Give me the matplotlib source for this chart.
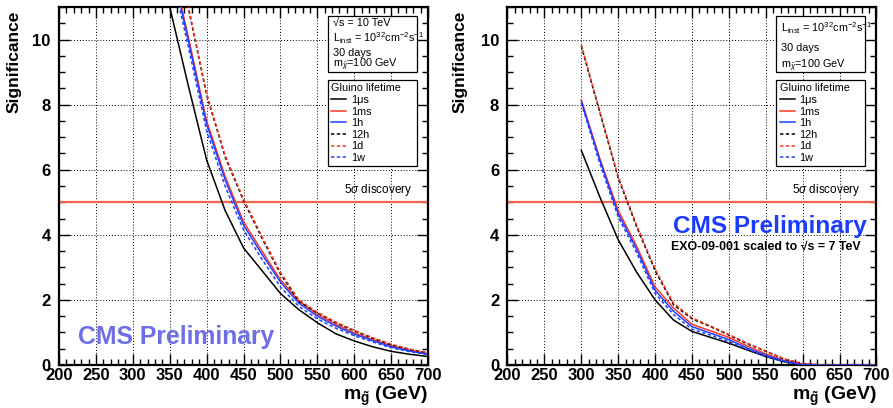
import matplotlib
matplotlib.use('Agg')
import matplotlib.pyplot as plt
from matplotlib.patches import Rectangle
from matplotlib.ticker import MultipleLocator

plt.rcParams['font.family'] = ['Liberation Sans', 'DejaVu Sans']
plt.rcParams['mathtext.fontset'] = 'custom'
plt.rcParams['mathtext.rm'] = 'Liberation Sans'
plt.rcParams['mathtext.it'] = 'Liberation Sans:italic'
plt.rcParams['mathtext.bf'] = 'Liberation Sans:bold'

# ---------------- data: left panel (10 TeV) ----------------
mass_L_black = [340, 350, 375, 400, 425, 450, 475, 500, 525, 550, 575, 600, 625, 650, 675, 700]
sig_L_1us = [12.2, 11.0, 8.6, 6.3, 4.75, 3.6, 2.9, 2.2, 1.7, 1.3, 0.96, 0.74, 0.56, 0.42, 0.33, 0.26]

mass_L_mid = [355, 375, 400, 425, 450, 475, 500, 525, 550, 575, 600, 625, 650, 675, 700]
sig_L_1ms = [12.1, 10.1, 7.5, 5.8, 4.4, 3.5, 2.62, 1.97, 1.56, 1.25, 0.99, 0.78, 0.59, 0.45, 0.35]
sig_L_1h = [12.0, 10.0, 7.4, 5.7, 4.3, 3.4, 2.55, 1.9, 1.5, 1.2, 0.95, 0.75, 0.56, 0.43, 0.33]
sig_L_1w = [11.8, 9.8, 7.2, 5.5, 4.15, 3.25, 2.4, 1.8, 1.42, 1.13, 0.9, 0.71, 0.53, 0.41, 0.32]

mass_L_dash = [365, 375, 400, 425, 450, 475, 500, 525, 550, 575, 600, 625, 650, 675, 700]
sig_L_12h = [12.0, 11.0, 8.3, 6.4, 5.05, 3.9, 2.8, 1.95, 1.6, 1.3, 1.05, 0.82, 0.62, 0.48, 0.37]
sig_L_1d = [12.05, 11.05, 8.35, 6.45, 5.1, 3.95, 2.85, 2.0, 1.62, 1.32, 1.07, 0.84, 0.64, 0.49, 0.38]

# ---------------- data: right panel (scaled to 7 TeV) ----------------
mass_R = [300, 325, 350, 375, 400, 425, 450, 475, 500, 525, 550, 575, 600, 625, 650, 675, 700]
sig_R_1us = [6.6, 5.17, 3.85, 2.85, 2.0, 1.38, 1.03, 0.85, 0.67, 0.46, 0.26, 0.1, 0.02, 0, 0, 0, 0]
sig_R_1ms = [8.15, 6.35, 4.75, 3.65, 2.4, 1.75, 1.25, 1.05, 0.85, 0.58, 0.34, 0.14, 0.03, 0, 0, 0, 0]
sig_R_1h = [8.1, 6.3, 4.65, 3.56, 2.3, 1.65, 1.18, 0.98, 0.78, 0.52, 0.3, 0.12, 0.02, 0, 0, 0, 0]
sig_R_12h = [9.8, 7.77, 5.75, 4.25, 2.9, 1.85, 1.42, 1.18, 0.92, 0.65, 0.42, 0.18, 0.04, 0, 0, 0, 0]
sig_R_1d = [9.85, 7.8, 5.8, 4.3, 2.95, 1.9, 1.45, 1.2, 0.94, 0.67, 0.43, 0.19, 0.04, 0, 0, 0, 0]
sig_R_1w = [8.05, 6.2, 4.55, 3.45, 2.2, 1.55, 1.1, 0.92, 0.72, 0.48, 0.27, 0.1, 0.01, 0, 0, 0, 0]

lifetime_labels = ['1\u03bcs', '1ms', '1h', '12h', '1d', '1w']

RED = '#ff3520'
BLUE = '#2040ff'
LINE5 = '#f26450'
dash = (0, (2.2, 1.6))

fig = plt.figure(figsize=(8.93, 4.08), dpi=100)
axL = fig.add_axes([0.0661, 0.1054, 0.4132, 0.8774])
axR = fig.add_axes([0.5683, 0.1054, 0.4132, 0.8774])


def style(ax):
    ax.set_xlim(200, 700)
    ax.set_ylim(0, 11)
    ax.xaxis.set_major_locator(MultipleLocator(50))
    ax.xaxis.set_minor_locator(MultipleLocator(10))
    ax.yaxis.set_major_locator(MultipleLocator(2))
    ax.yaxis.set_minor_locator(MultipleLocator(0.5))
    ax.tick_params(which='both', direction='in', top=True, right=True, width=1.0)
    ax.tick_params(which='major', length=8)
    ax.tick_params(which='minor', length=4)
    ax.tick_params(axis='x', which='major', pad=2, labelsize=12)
    ax.tick_params(axis='y', which='major', pad=6, labelsize=12)
    for lab in ax.get_xticklabels() + ax.get_yticklabels():
        lab.set_fontweight('bold')
    ax.grid(True, which='major', color='black', linestyle=(0, (1, 2)), lw=0.7)
    for s in ax.spines.values():
        s.set_linewidth(1.6)
    ax.axhline(5, color=LINE5, lw=1.6, zorder=2)
    ax.text(0.957, 5.12, '5$\\sigma$ discovery', transform=ax.get_yaxis_transform(),
            ha='right', va='bottom', fontsize=8.5)
    ax.text(1.0, -0.056, r'$\mathbf{m_{\tilde{g}}}$ (GeV)', transform=ax.transAxes,
            ha='right', va='top', fontsize=14, fontweight='bold')


def add_info_box(ax, box_lines, line_y):
    ax.add_patch(Rectangle((0.729, 0.818), 0.241, 0.157, transform=ax.transAxes,
                           facecolor='white', edgecolor='black', lw=0.9, zorder=5))
    for txt, y in zip(box_lines, line_y):
        ax.text(0.742, y, txt, transform=ax.transAxes, ha='left', va='center',
                fontsize=7.8, zorder=6)


# ---------------- left panel ----------------
style(axL)
axL.plot(mass_L_black, sig_L_1us, color='black', lw=1.1, label=lifetime_labels[0], zorder=3)
axL.plot(mass_L_mid, sig_L_1ms, color=RED, lw=1.1, label=lifetime_labels[1], zorder=3)
axL.plot(mass_L_mid, sig_L_1h, color=BLUE, lw=1.1, label=lifetime_labels[2], zorder=3)
axL.plot(mass_L_dash, sig_L_12h, color='black', lw=1.1, ls=dash, label=lifetime_labels[3], zorder=3)
axL.plot(mass_L_dash, sig_L_1d, color=RED, lw=1.1, ls=dash, label=lifetime_labels[4], zorder=3)
axL.plot(mass_L_mid, sig_L_1w, color=BLUE, lw=1.1, ls=dash, label=lifetime_labels[5], zorder=3)
add_info_box(axL, ['\u221as = 10 TeV', r'L$_{\rm inst}$ = 10$^{32}$cm$^{-2}$s$^{-1}$',
                   '30 days', r'm$_{\tilde{\chi}}$=100 GeV'],
             [0.955, 0.912, 0.872, 0.838])
axL.text(0.316, 0.85, 'CMS Preliminary', transform=axL.get_yaxis_transform(),
         ha='center', va='center', fontsize=17.8, fontweight='bold', color='#6e6ee6')

# ---------------- right panel ----------------
style(axR)
axR.plot(mass_R, sig_R_1us, color='black', lw=1.1, label=lifetime_labels[0], zorder=3)
axR.plot(mass_R, sig_R_1ms, color=RED, lw=1.1, label=lifetime_labels[1], zorder=3)
axR.plot(mass_R, sig_R_1h, color=BLUE, lw=1.1, label=lifetime_labels[2], zorder=3)
axR.plot(mass_R, sig_R_12h, color='black', lw=1.1, ls=dash, label=lifetime_labels[3], zorder=3)
axR.plot(mass_R, sig_R_1d, color=RED, lw=1.1, ls=dash, label=lifetime_labels[4], zorder=3)
axR.plot(mass_R, sig_R_1w, color=BLUE, lw=1.1, ls=dash, label=lifetime_labels[5], zorder=3)
add_info_box(axR, [r'L$_{\rm inst}$ = 10$^{32}$cm$^{-2}$s$^{-1}$', '30 days',
                   r'm$_{\tilde{\chi}}$=100 GeV'],
             [0.942, 0.885, 0.835])
axR.text(0.71, 4.27, 'CMS Preliminary', transform=axR.get_yaxis_transform(),
         ha='center', va='center', fontsize=17.6, fontweight='bold', color='#1a3cff')
axR.text(0.70, 3.65, 'EXO-09-001 scaled to \u221as = 7 TeV', transform=axR.get_yaxis_transform(),
         ha='center', va='center', fontsize=8.9, fontweight='bold')

for ax in (axL, axR):
    leg = ax.legend(loc='upper left', bbox_to_anchor=(0.729, 0.545, 0.241, 0.251),
                    mode='expand', borderaxespad=0, fontsize=7.8, title='Gluino lifetime',
                    title_fontsize=7.8, alignment='left', handlelength=1.4, handletextpad=0.4,
                    labelspacing=0.15, borderpad=0.3, fancybox=False, framealpha=1,
                    edgecolor='black')
    leg.get_frame().set_linewidth(0.9)
    leg.set_zorder(6)

fig.text(0.0157, 0.975, 'Significance', rotation=90, ha='center', va='top',
         fontsize=12.5, fontweight='bold')
fig.text(0.515, 0.975, 'Significance', rotation=90, ha='center', va='top',
         fontsize=12.5, fontweight='bold')

fig.savefig('out.png', dpi=100)
